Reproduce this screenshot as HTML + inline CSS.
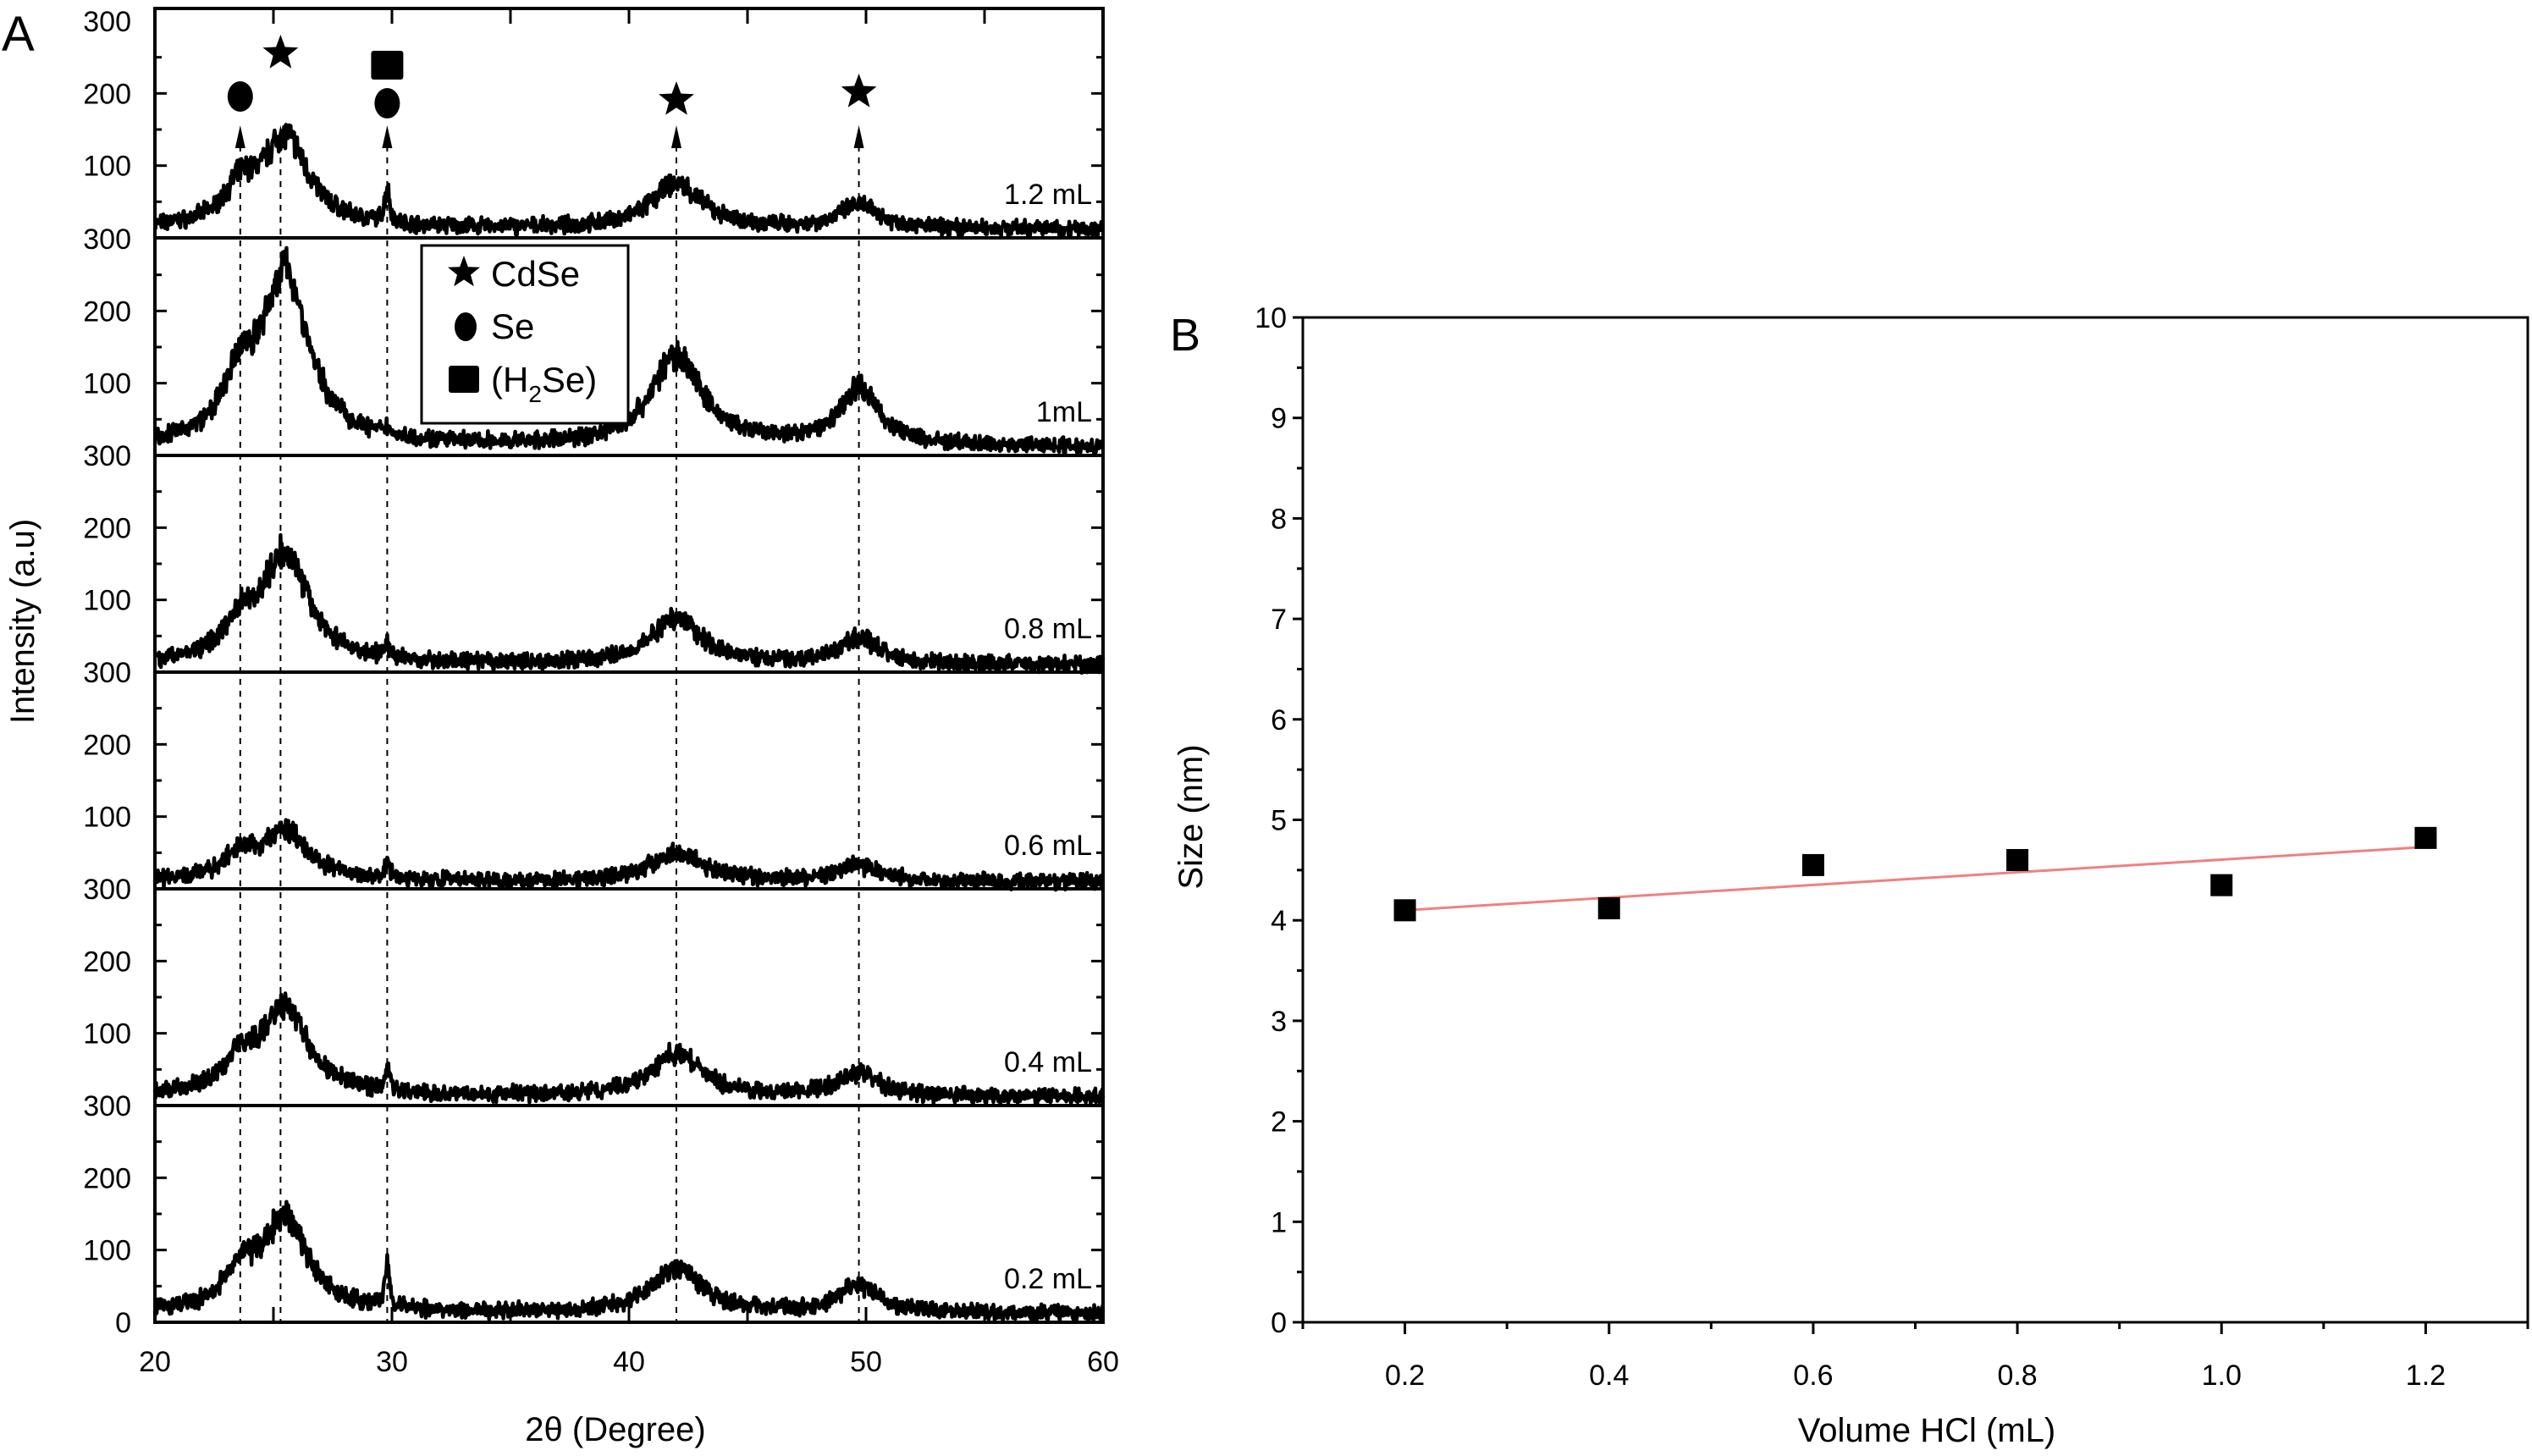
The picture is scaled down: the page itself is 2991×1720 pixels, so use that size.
<!DOCTYPE html>
<html><head><meta charset="utf-8"><style>
body{margin:0;background:#fff}
svg{display:block}
text{font-family:"Liberation Sans",sans-serif;fill:#000}
</style></head><body>
<svg id="fig" width="2991" height="1720" viewBox="0 0 2991 1720">
<g id="A"></g>
<g id="B"></g>
</svg>
<script>
// ---- Panel A data ----
const samples = ["1.2 mL","1mL","0.8 mL","0.6 mL","0.4 mL","0.2 mL"];
const peakCenters = [23.6, 25.5, 29.8, 42.0, 49.7];
const peakWidths = [0.8, 1.2, 0.12, 1.3, 1.0];
const peakHeights = [
  [45,125,50,62,32],
  [70,235,10,125,80],
  [45,150,18,65,35],
  [30,68,25,40,22],
  [40,120,35,58,32],
  [45,128,62,62,38]
];
const baselines = [12,12,10,10,12,12];
const xTicksA = [20,30,40,50,60];
const yTicksA = [0,100,200,300];
const refLines = [23.6,25.3,29.8,42.0,49.7];
// ---- Panel B data ----
const volumes = [0.2,0.4,0.6,0.8,1.0,1.2];
const sizes = [4.1,4.12,4.55,4.6,4.35,4.82];
const fitEnds = [4.1,4.73];
const xTicksB = [0.2,0.4,0.6,0.8,1.0,1.2];
const yTicksB = [0,1,2,3,4,5,6,7,8,9,10];

const NS="http://www.w3.org/2000/svg";
function mk(parent,tag,attrs,txt){const e=document.createElementNS(NS,tag);for(const k in attrs)e.setAttribute(k,attrs[k]);if(txt!==undefined)e.textContent=txt;parent.appendChild(e);return e;}

const A=document.getElementById('A');
const aL=183,aR=1303,aTop=10,panelTops=[26,281,538,794,1050,1306],aBot=1562,unit=256/300;
const xA=v=>aL+(v-20)*(aR-aL)/40;

let r=mk(A,'rect',{x:aL,y:aTop,width:aR-aL,height:aBot-aTop,fill:'none',stroke:'#000','stroke-width':4});

refLines.forEach((d,k)=>{
  const l=mk(A,'line',{x1:xA(d),x2:xA(d),y1:172,y2:aBot,stroke:'#000','stroke-width':2,'stroke-dasharray':'7,7'});
  
  const ar=mk(A,'path',{d:`M${xA(d)-6} 175 L${xA(d)} 148 L${xA(d)+6} 175 Z`,fill:'#000'});
  
});
let seed=7;function rnd(){seed=(seed*16807)%2147483647;return seed/2147483647-0.5;}
samples.forEach((s,i)=>{
  const bot=(i<5?panelTops[i+1]:aBot);
  if(i<5){const d=mk(A,'line',{x1:aL,x2:aR,y1:bot,y2:bot,stroke:'#000','stroke-width':4});
    }
  let pts=[];
  for(let x=20;x<=60.001;x+=0.025){
    let v=baselines[i],pk=0;
    peakCenters.forEach((c,k)=>{const w=peakWidths[k];pk+=peakHeights[i][k]/(1+((x-c)/w)**2);});
    v+=pk;
    v+=(rnd()*16+rnd()*10)*(1+pk/150);
    pts.push(xA(x).toFixed(1)+','+(bot-v*unit).toFixed(1));
  }
  const p=mk(A,'polyline',{points:pts.join(' '),fill:'none',stroke:'#000','stroke-width':4.5,'stroke-linejoin':'round'});
  
  const t=mk(A,'text',{x:1290,y:bot-40,'font-size':34,'text-anchor':'end'},s);
  
  const top=i==0?aTop:panelTops[i];
  yTicksA.forEach(v=>{
    const y=bot-v*unit; if(y<top-3)return;
    if(v>0||i==5){const tl=mk(A,'text',{x:155,y:y+12,'font-size':34,'text-anchor':'end'},String(v));
      }
    if(v>0&&v<300){mk(A,'line',{x1:aL,x2:aL+14,y1:y,y2:y,stroke:'#000','stroke-width':3});mk(A,'line',{x1:aR-14,x2:aR,y1:y,y2:y,stroke:'#000','stroke-width':3});}
  });
  [50,150,250].forEach(v=>{const y=bot-v*unit;mk(A,'line',{x1:aL,x2:aL+8,y1:y,y2:y,stroke:'#000','stroke-width':3});mk(A,'line',{x1:aR-8,x2:aR,y1:y,y2:y,stroke:'#000','stroke-width':3});});
});
for(let d=25;d<60;d+=5){mk(A,'line',{x1:xA(d),x2:xA(d),y1:aTop,y2:aTop+18,stroke:'#000','stroke-width':3});mk(A,'line',{x1:xA(d),x2:xA(d),y1:aBot-18,y2:aBot,stroke:'#000','stroke-width':3});}
xTicksA.forEach(v=>{const t=mk(A,'text',{x:xA(v),y:1620,'font-size':34,'text-anchor':'middle'},String(v));
  });
let t=mk(A,'text',{x:727,y:1702,'font-size':40,'text-anchor':'middle'},'2θ (Degree)');
t=mk(A,'text',{x:40,y:734,'font-size':40,'text-anchor':'middle',transform:'rotate(-90 40 734)'},'Intensity (a.u)');
t=mk(A,'text',{x:2,y:60,'font-size':58},'A');
function star(cx,cy,R){let d='';for(let k=0;k<10;k++){const a=-Math.PI/2+k*Math.PI/5,rr=k%2?R*0.42:R;d+=(k?'L':'M')+(cx+rr*Math.cos(a)).toFixed(1)+' '+(cy+rr*Math.sin(a)).toFixed(1);}return d+'Z';}
[[25.3,63],[42.0,118],[49.7,109]].forEach(m=>{const s=mk(A,'path',{d:star(xA(m[0]),m[1],22),fill:'#000'});});
[[23.6,114],[29.8,122]].forEach(m=>{const c=mk(A,'ellipse',{cx:xA(m[0]),cy:m[1],rx:15,ry:18,fill:'#000'});});
let sq=mk(A,'rect',{x:xA(29.8)-19,y:60,width:38,height:34,rx:3,fill:'#000'});
const lg=mk(A,'g',{});
mk(lg,'rect',{x:498,y:290,width:244,height:210,fill:'#fff',stroke:'#000','stroke-width':3});
mk(lg,'path',{d:star(548,322,20),fill:'#000'});
mk(lg,'text',{x:580,y:338,'font-size':42},'CdSe');
mk(lg,'ellipse',{cx:550,cy:386,rx:13,ry:17,fill:'#000'});
mk(lg,'text',{x:580,y:400,'font-size':42},'Se');
mk(lg,'rect',{x:530,y:432,width:36,height:32,rx:3,fill:'#000'});
const ht=mk(lg,'text',{x:580,y:463,'font-size':42});ht.innerHTML='(H<tspan font-size="28" dy="12">2</tspan><tspan dy="-12">Se)</tspan>';

// ---- Panel B ----
const B=document.getElementById('B');
const bL=1539,bR=2986,bT=375,bB=1562;
const xB=v=>bL+(v-0.1)*(bR-bL)/1.2;
const yB=v=>bB-v*(bB-bT)/10;
r=mk(B,'path',{d:`M${bL} ${bT} L${bR} ${bT} L${bR} ${bB} L${bL} ${bB} Z`,fill:'none',stroke:'#000','stroke-width':3});

yTicksB.forEach(v=>{mk(B,'line',{x1:bL-12,x2:bL,y1:yB(v),y2:yB(v),stroke:'#000','stroke-width':3});
  if(v<10)mk(B,'line',{x1:bL-7,x2:bL,y1:yB(v+0.5),y2:yB(v+0.5),stroke:'#000','stroke-width':3});
  const tl=mk(B,'text',{x:1520,y:yB(v)+12,'font-size':34,'text-anchor':'end'},String(v));
  });
for(let k=1;k<=13;k++){const v=0.1*k;mk(B,'line',{x1:xB(v),x2:xB(v),y1:bB,y2:bB+(k%2==0?14:8),stroke:'#000','stroke-width':3});}
xTicksB.forEach(v=>{const tl=mk(B,'text',{x:xB(v),y:1636,'font-size':34,'text-anchor':'middle'},v.toFixed(1));
  });
const fl=mk(B,'line',{x1:xB(volumes[0]),y1:yB(fitEnds[0]),x2:xB(volumes[volumes.length-1]),y2:yB(fitEnds[1]),stroke:'#f08080','stroke-width':3});

volumes.forEach((v,i)=>{const p=mk(B,'rect',{x:xB(v)-13,y:yB(sizes[i])-13,width:26,height:26,fill:'#000'});
  });
t=mk(B,'text',{x:2276,y:1703,'font-size':40,'text-anchor':'middle'},'Volume HCl (mL)');
t=mk(B,'text',{x:1420,y:965,'font-size':40,'text-anchor':'middle',transform:'rotate(-90 1420 965)'},'Size (nm)');
t=mk(B,'text',{x:1382,y:414,'font-size':54},'B');
</script>
</body></html>
